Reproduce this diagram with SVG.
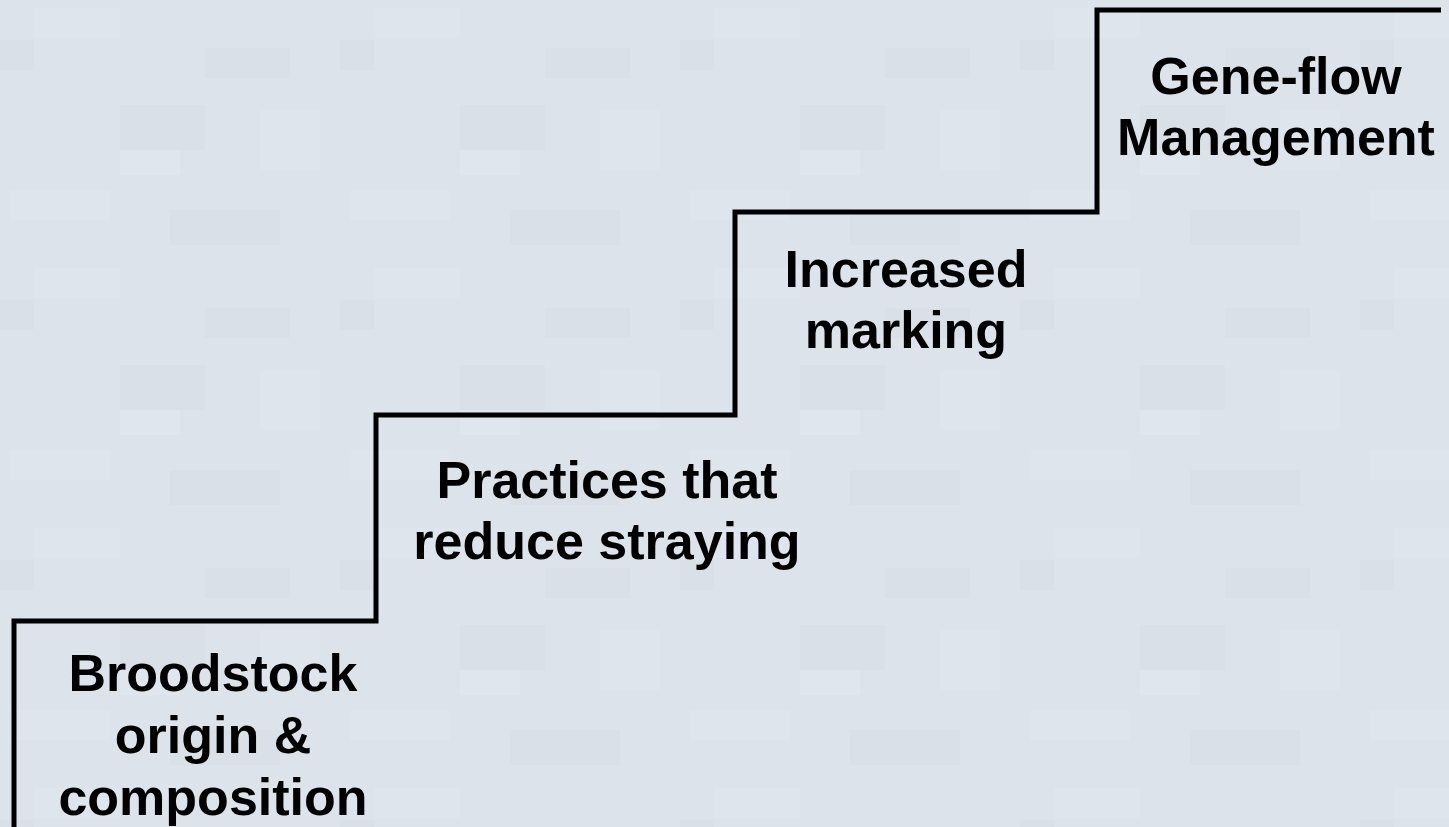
<svg xmlns="http://www.w3.org/2000/svg" width="1449" height="827" viewBox="0 0 1449 827">
  <style>
    .lbl { font-family: "Liberation Sans", Arial, sans-serif; font-weight: bold; font-size: 52px; fill: #000000; text-anchor: middle; }
    .stair { fill: none; stroke: #000000; stroke-width: 5; stroke-linejoin: miter; stroke-linecap: butt; }
  </style>
  <defs>
    <pattern id="tex" x="0" y="0" width="340" height="260" patternUnits="userSpaceOnUse">
      <rect width="340" height="260" fill="#dce3eb"/>
      <rect x="34" y="8" width="86" height="30" fill="#dfe5ed"/>
      <rect x="0" y="40" width="34" height="30" fill="#d9e0e8"/>
      <rect x="205" y="48" width="85" height="30" fill="#d9e0e8"/>
      <rect x="120" y="105" width="85" height="45" fill="#d9e0e8"/>
      <rect x="120" y="150" width="60" height="25" fill="#e0e6ee"/>
      <rect x="260" y="110" width="60" height="60" fill="#dfe5ed"/>
      <rect x="10" y="190" width="100" height="30" fill="#dfe5ed"/>
      <rect x="170" y="210" width="110" height="35" fill="#d9e0e8"/>
    </pattern>
  </defs>
  <rect id="background" x="0" y="0" width="1449" height="827" fill="url(#tex)"/>
  <g id="connectors">
    <path class="stair" d="M14,827 V621 H376 V415 H735 V212 H1097 V10 H1441"/>
  </g>
  <g id="step1">
    <text class="lbl" x="213" y="691">Broodstock</text>
    <text class="lbl" x="213" y="753">origin &amp;</text>
    <text class="lbl" x="213" y="815">composition</text>
  </g>
  <g id="step2">
    <text class="lbl" x="607" y="498">Practices that</text>
    <text class="lbl" x="607" y="559">reduce straying</text>
  </g>
  <g id="step3">
    <text class="lbl" x="906" y="287">Increased</text>
    <text class="lbl" x="906" y="348">marking</text>
  </g>
  <g id="step4">
    <text class="lbl" x="1276" y="94">Gene-flow</text>
    <text class="lbl" x="1276" y="155">Management</text>
  </g>
</svg>
